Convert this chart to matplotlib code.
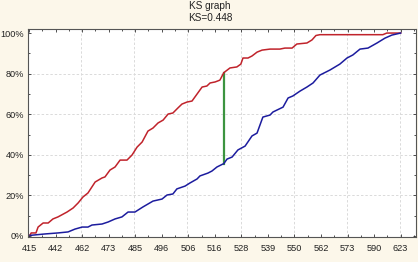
import matplotlib
matplotlib.use("Agg")
import matplotlib.pyplot as plt
import numpy as np

# x positions are in tick-index units (0 = 415 ... 14 = 623)
tick_labels = ["415", "442", "462", "473", "485", "496", "506", "516",
               "528", "539", "550", "562", "573", "590", "623"]

red_x = [0.04, 0.08, 0.26, 0.34, 0.53, 0.72, 0.90, 1.09, 1.43, 1.66, 1.85, 2.03,
         2.22, 2.49, 2.75, 2.86, 3.05, 3.24, 3.43, 3.69, 3.88, 4.07, 4.26, 4.48,
         4.67, 4.86, 5.05, 5.24, 5.42, 5.61, 5.76, 5.95, 6.14, 6.25, 6.52, 6.70,
         6.82, 7.01, 7.19, 7.34, 7.57, 7.83, 7.98, 8.06, 8.25, 8.40, 8.59, 8.78,
         9.08, 9.45, 9.64, 9.91, 10.09, 10.47, 10.66, 10.81, 10.96, 13.33, 13.48, 14.0]
red_y = [0.005, 0.015, 0.015, 0.044, 0.064, 0.064, 0.084, 0.094, 0.118, 0.138, 0.163, 0.192,
         0.212, 0.266, 0.286, 0.291, 0.325, 0.340, 0.374, 0.374, 0.399, 0.438, 0.463, 0.517,
         0.532, 0.557, 0.571, 0.601, 0.606, 0.631, 0.650, 0.660, 0.665, 0.685, 0.734, 0.739,
         0.754, 0.759, 0.768, 0.805, 0.828, 0.833, 0.847, 0.877, 0.877, 0.887, 0.906, 0.916,
         0.921, 0.921, 0.926, 0.926, 0.946, 0.951, 0.966, 0.988, 0.992, 0.992, 1.0, 1.0]

blue_x = [0.04, 0.60, 1.09, 1.47, 1.73, 2.00, 2.22, 2.37, 2.75, 2.98, 3.24, 3.50,
          3.73, 3.99, 4.29, 4.67, 5.01, 5.20, 5.42, 5.57, 5.88, 6.06, 6.33, 6.44,
          6.74, 6.89, 7.08, 7.34, 7.46, 7.65, 7.87, 8.14, 8.40, 8.59, 8.81, 9.08,
          9.19, 9.57, 9.76, 9.94, 10.21, 10.47, 10.70, 10.96, 11.34, 11.71, 11.98, 12.20,
          12.47, 12.77, 13.11, 13.41, 13.67, 14.0]
blue_y = [0.003, 0.010, 0.015, 0.020, 0.034, 0.044, 0.044, 0.054, 0.059, 0.069, 0.084, 0.094,
          0.118, 0.118, 0.143, 0.172, 0.182, 0.202, 0.207, 0.232, 0.246, 0.261, 0.281, 0.296,
          0.310, 0.320, 0.340, 0.357, 0.379, 0.389, 0.424, 0.443, 0.493, 0.507, 0.586, 0.596,
          0.611, 0.635, 0.680, 0.690, 0.714, 0.734, 0.754, 0.793, 0.818, 0.847, 0.877, 0.892,
          0.921, 0.926, 0.951, 0.975, 0.990, 1.0]

ks_x = 7.34
ks_low = 0.357
ks_value = 0.448

plt.rcParams['font.family'] = ['Liberation Sans', 'DejaVu Sans']

fig = plt.figure(figsize=(4.18, 2.62), dpi=100)
fig.patch.set_facecolor('#FCF7EA')
ax = fig.add_axes([28/418, 1 - 237/262, (416-28)/418, (237-29)/262])
ax.set_facecolor('white')

ax.plot(red_x, red_y, color='#C0232B', lw=1.1, zorder=3)
ax.plot(blue_x, blue_y, color='#1C1C9E', lw=1.1, zorder=3)
ax.plot([ks_x, ks_x], [ks_low, ks_low + ks_value], color='#3C9440', lw=1.6, zorder=2)

ax.set_xlim(-0.04, 14.58)
ax.set_ylim(-0.005, 1.02)

ax.set_xticks(range(len(tick_labels)))
ax.set_xticklabels(tick_labels)
ax.set_xticks(np.arange(0.5, 14.6, 1.0), minor=True)
ax.set_yticks([0, 0.2, 0.4, 0.6, 0.8, 1.0])
ax.set_yticklabels(["0%", "20%", "40%", "60%", "80%", "100%"])
ax.set_yticks(np.arange(0.1, 1.0, 0.2), minor=True)

ax.tick_params(which='both', direction='in', top=True, right=True,
               labelsize=6.6, colors='#333333', length=2.5, width=0.6, pad=5)
ax.tick_params(which='minor', length=1.5)
ax.tick_params(axis='x', labelcolor='#222222')
ax.tick_params(axis='y', labelcolor='#222222', pad=3)

for v in [0.2, 0.4, 0.6, 0.8]:
    ax.axhline(v, color='#DADADA', lw=0.7, ls=(0, (2.5, 2)), zorder=1)
for i in range(2, 15, 2):
    ax.axvline(i - 0.03, color='#DADADA', lw=0.7, ls=(0, (2.5, 2)), zorder=1)

for s in ax.spines.values():
    s.set_color('#555555')
    s.set_linewidth(0.8)

fig.text(210/418, 1 - 12/262, "KS graph\nKS=0.448", ha='center', va='center',
         fontsize=7.2, color='#222222', linespacing=1.2)

fig.savefig('out.png', dpi=100, facecolor=fig.get_facecolor())
